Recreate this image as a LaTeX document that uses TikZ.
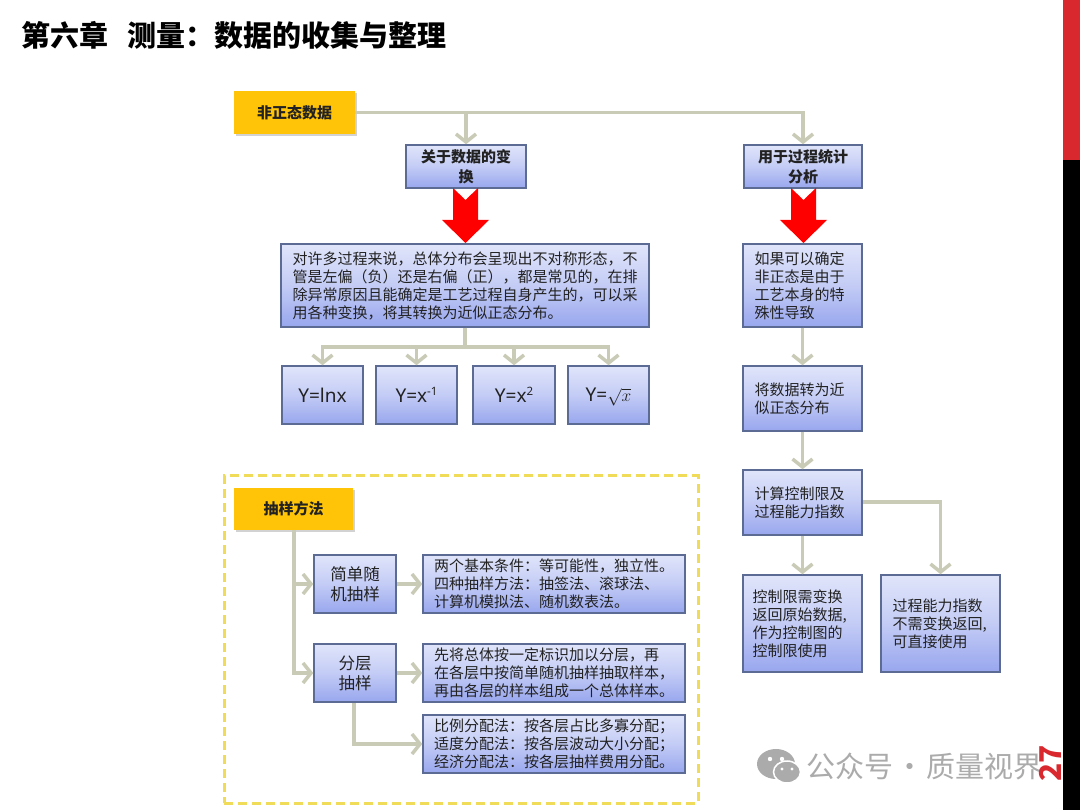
\documentclass[tikz,border=0pt]{standalone}
\usepackage{fontspec}
\setmainfont{Noto Sans CJK SC}
\newfontfamily\latinf{Noto Sans}
\usetikzlibrary{arrows.meta,calc,shadows}
\definecolor{linec}{HTML}{C9CBB6}
\definecolor{boxb}{HTML}{5B6B94}
\definecolor{boxt}{HTML}{E0E5FA}
\definecolor{boxd}{HTML}{98A6EE}
\definecolor{gold}{HTML}{FFC408}
\definecolor{txt}{HTML}{222222}
\definecolor{dashy}{HTML}{F0DC58}
\definecolor{barred}{HTML}{D9282E}
\definecolor{wm}{HTML}{ABABAB}
\tikzset{
 x=1pt,y=-1pt,
 base/.style={inner sep=0pt,align=center,text=txt},
 bbox/.style={base,draw=boxb,line width=1.5pt,top color=boxt,bottom color=boxd,middle color=boxt!60!boxd},
 goldbox/.style={base,fill=gold,font=\fontsize{15}{17}\selectfont\bfseries,
   drop shadow={shadow xshift=2pt,shadow yshift=-2pt,fill=black!35,opacity=.5}},
 headf/.style={font=\fontsize{15}{20}\selectfont\bfseries},
 bodyf/.style={font=\fontsize{15}{18}\selectfont},
 bigf/.style={font=\fontsize{16.5}{20}\selectfont},
 formf/.style={font=\latinf\fontsize{19}{22}\selectfont},
 conn/.style={draw=linec,line width=3.5pt},
 arr/.style={conn,-{Straight Barb[length=8pt,width=20pt,line width=3.5pt]}},
}
\newcommand{\bx}[7]{\node[#2,minimum width=#5-#3,minimum height=#6-#4] (#1) at ({(#3+#5)/2},{(#4+#6)/2}) {#7};}
\newcommand{\redarrow}[2]{\fill[red] (#1-12.5,#2) -- (#1,#2+12) -- (#1+12.5,#2) -- (#1+12.5,#2+32) -- (#1+23.5,#2+32) -- (#1,#2+55) -- (#1-23.5,#2+32) -- (#1-12.5,#2+32) -- cycle;}
\newcommand{\supsm}[1]{\raisebox{7pt}{\fontsize{11.5}{12}\selectfont #1}}
\begin{document}
\begin{tikzpicture}
\useasboundingbox (0,0) rectangle (1080,810);
\fill[white] (0,0) rectangle (1080,810);
% side bar
\fill[black] (1063,0) rectangle (1080,810);
\fill[barred] (1063,0) rectangle (1080,160);
% title
\node[base,anchor=west,text=black,font=\fontsize{29}{32}\selectfont\bfseries] (title) at (21,35) {第六章\hspace{19pt}测量：数据的收集与整理};
% dashed frame
\node[draw=dashy,line width=3pt,dash pattern=on 9pt off 5pt,minimum width=474,minimum height=327,inner sep=0pt] (frame) at (461,639.5) {};
% boxes
\bx{A}{goldbox}{234}{91}{355}{134}{非正态数据}
\bx{B}{bbox,headf}{406}{145}{526}{188}{关于数据的变\\换}
\bx{C}{bbox,headf}{744}{145}{862}{188}{用于过程统计\\分析}
\bx{D}{bbox,bodyf}{281}{244}{649}{327}{\parbox{345pt}{\raggedright 对许多过程来说，总体分布会呈现出不对称形态，不\\管是左偏（负）还是右偏（正），都是常见的，在排\\除异常原因且能确定是工艺过程自身产生的，可以采\\用各种变换，将其转换为近似正态分布。}}
\bx{E}{bbox,bodyf}{743}{244}{862}{327}{\parbox{96pt}{\raggedright 如果可以确定\\非正态是由于\\工艺本身的特\\殊性导致}}
\bx{F}{bbox,formf}{282}{366}{363}{424}{Y=lnx}
\bx{G}{bbox,formf}{376}{366}{457}{424}{Y=x\supsm{-1}}
\bx{H}{bbox,formf}{473}{366}{555}{424}{Y=x\supsm{2}}
\bx{I}{bbox,formf}{568}{366}{649}{424}{Y=\smash{$\sqrt{x}$}}
\bx{J}{bbox,bodyf}{743}{366}{862}{431}{\parbox{96pt}{\raggedright 将数据转为近\\似正态分布}}
\bx{K}{bbox,bodyf}{743}{470}{862}{535}{\parbox{96pt}{\raggedright 计算控制限及\\过程能力指数}}
\bx{L}{bbox,bodyf}{743}{575}{862}{672}{\parbox{100pt}{\raggedright 控制限需变换\\返回原始数据,\\作为控制图的\\控制限使用}}
\bx{M}{bbox,bodyf}{881}{575}{1000}{672}{\parbox{96pt}{\raggedright 过程能力指数\\不需变换返回,\\可直接使用}}
\bx{S}{goldbox}{234}{488}{353}{530}{抽样方法}
\bx{P}{bbox,bigf}{314}{555}{396}{613}{简单随\\机抽样}
\bx{Q}{bbox,bodyf}{423}{555}{685}{613}{\parbox{240pt}{\raggedright 两个基本条件：等可能性，独立性。\\四种抽样方法：抽签法、滚球法、\\计算机模拟法、随机数表法。}}
\bx{R}{bbox,bigf}{314}{644}{396}{702}{分层\\抽样}
\bx{T}{bbox,bodyf}{423}{644}{685}{702}{\parbox{240pt}{\raggedright 先将总体按一定标识加以分层，再\\在各层中按简单随机抽样抽取样本，\\再由各层的样本组成一个总体样本。}}
\bx{U}{bbox,bodyf}{423}{715}{685}{773}{\parbox{240pt}{\raggedright 比例分配法：按各层占比多寡分配；\\适度分配法：按各层波动大小分配；\\经济分配法：按各层抽样费用分配。}}
% connectors
\draw[arr] (A.east) -| (B.north);
\draw[arr] (A.east) -| (C.north);
\coordinate (dj) at (465,347);
\draw[conn] (D.south -| dj) -- (dj);
\draw[arr] (dj) -| (F.north);
\draw[arr] (dj) -| (G.north);
\draw[arr] (dj) -| (H.north);
\draw[arr] (dj) -| (I.north);
\draw[arr] (E.south) -- (J.north);
\draw[arr] (J.south) -- (K.north);
\draw[arr] (K.south) -- (L.north);
\draw[arr] (K.east |- 0,502) -| (M.north);
\coordinate (sj) at (294,530);
\draw[arr] (sj) |- (P.west);
\draw[arr] (sj) |- (R.west);
\draw[arr] (P.east) -- (Q.west);
\draw[arr] (R.east) -- (T.west);
\draw[arr] (R.south -| 354,0) |- (U.west);
% red arrows
\redarrow{465.5}{188}
\redarrow{803.5}{188}
% watermark
\fill[wm] (776,764) ellipse (19 and 15);
\draw[white,line width=1.5pt,fill=wm] (787,772) ellipse (13.5 and 11);
\fill[white] (770,759) circle (2.2) (782,759) circle (2.2) (782,769) circle (1.6) (792,769) circle (1.6);
\node[base,anchor=west,text=wm,font=\fontsize{29}{31}\selectfont] (wmtext) at (806,766) {公众号\hspace{2pt}·\hspace{2pt}质量视界};
% page number
\node[base,anchor=center,text=barred,rotate=90,font=\fontsize{30}{32}\bfseries\selectfont] (pg) at (1050,763) {27};
\end{tikzpicture}
\end{document}
